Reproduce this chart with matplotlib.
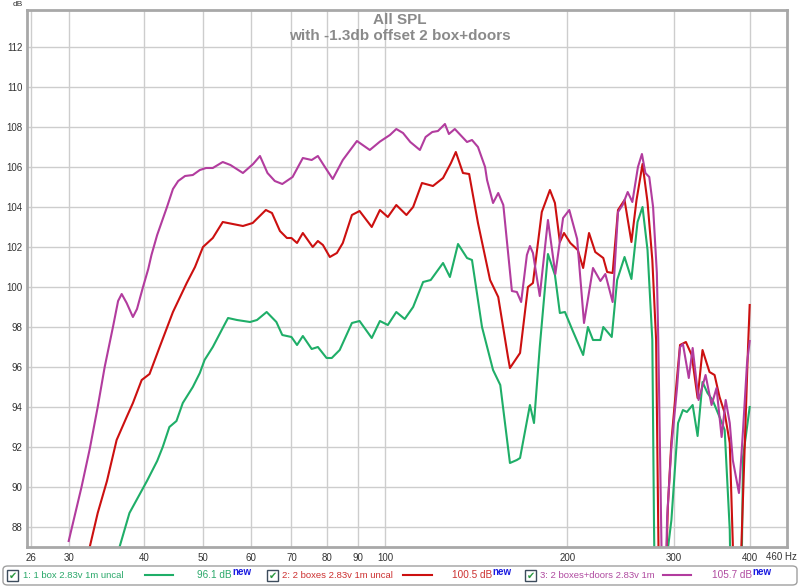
import matplotlib
matplotlib.use("Agg")
import matplotlib.pyplot as plt
from matplotlib.patches import Rectangle, FancyBboxPatch
from matplotlib.lines import Line2D
from matplotlib.ticker import NullLocator

plt.rcParams['font.family'] = ['Liberation Sans', 'DejaVu Sans']

# trace 1: 1 box 2.83v 1m uncal
box1_hz = [36.4, 37.8, 40.4, 42.0, 42.9, 44.0, 45.2, 46.3, 48.1, 49.4, 50.3, 51.9,
           53.9, 55.0, 56.9, 59.8, 61.4, 63.7, 66.1, 67.6, 70.0, 71.5, 73.1, 75.6,
           77.4, 80.0, 81.6, 84.1, 88.1, 90.7, 95.0, 98.0, 101.0, 104.3, 107.7,
           111.2, 115.5, 118.9, 124.6, 127.9, 131.9, 136.5, 139.1, 144.5, 150.7,
           154.9, 160.7, 165.0, 167.0, 173.4, 176.1, 180.0, 185.7, 190.7, 194.3,
           198.1, 203.8, 212.3, 216.2, 220.4, 226.7, 229.2, 236.7, 241.6, 248.5,
           255.1, 261.1, 266.1, 271.2, 276.2, 278.0, 279.5, 285.0, 290.0, 293.3,
           297.0, 304.6, 310.3, 315.0, 322.0, 328.1, 334.3, 340.7, 347.3, 356.7,
           363.7, 370.8, 373.0, 385.0, 388.4, 390.0, 396.0, 400.0]
box1_db = [87.0, 88.7, 90.3, 91.3, 92.0, 93.0, 93.3, 94.2, 95.0, 95.7, 96.35, 97.0,
           97.95, 98.45, 98.35, 98.25, 98.35, 98.75, 98.25, 97.6, 97.5, 97.1, 97.55, 96.9,
           97.0, 96.45, 96.45, 96.85, 98.2, 98.3, 97.45, 98.3, 98.1, 98.75, 98.4,
           99.0, 100.25, 100.35, 101.2, 100.5, 102.15, 101.45, 101.35, 98.0, 95.85,
           95.1, 91.2, 91.35, 91.45, 94.1, 93.2, 97.0, 101.65, 100.6, 98.7,
           98.75, 97.85, 96.6, 98.0, 97.35, 97.35, 98.0, 97.5, 100.35, 101.5,
           100.4, 103.25, 104.0, 101.85, 97.35, 88.0, 82.0, 80.0, 82.0, 87.0,
           88.35, 93.2, 93.85, 93.75, 94.1, 92.55, 95.25, 94.7, 94.35, 93.5,
           92.85, 87.85, 83.0, 82.0, 87.0, 91.5, 93.0, 94.0]

# trace 2: 2 boxes 2.83v 1m uncal
box2_hz = [32.5, 33.5, 34.7, 36.0, 37.4, 38.3, 39.6, 40.8, 42.4, 44.6, 47.0, 48.5,
           50.0, 51.9, 53.9, 56.0, 58.2, 60.4, 63.5, 65.0, 67.0, 68.8, 70.0, 71.5,
           73.1, 75.9, 77.4, 78.9, 81.0, 83.2, 85.1, 88.1, 90.7, 95.0, 98.0, 101.0,
           104.3, 108.4, 111.2, 115.0, 119.9, 124.6, 128.4, 130.8, 134.4, 137.6,
           142.3, 149.0, 153.7, 159.5, 160.7, 167.0, 172.1, 175.4, 181.4, 187.1,
           190.7, 194.3, 197.4, 202.2, 208.0, 212.3, 217.1, 222.3, 229.2, 232.6,
           237.5, 242.4, 248.5, 255.1, 260.1, 266.1, 271.2, 276.2, 280.2, 282.0,
           283.5, 285.0, 290.0, 293.0, 297.0, 303.5, 306.9, 313.8, 320.8, 328.1,
           334.3, 343.3, 350.0, 356.7, 363.7, 370.8, 375.1, 378.0, 384.0, 387.5,
           397.5, 400.0]
box2_db = [87.0, 88.7, 90.3, 92.35, 93.5, 94.2, 95.35, 95.65, 97.0, 98.75, 100.2, 101.0,
           102.0, 102.45, 103.25, 103.15, 103.05, 103.2, 103.85, 103.7, 102.8, 102.45, 102.45, 102.2,
           102.7, 102.0, 102.3, 102.1, 101.5, 101.7, 102.2, 103.6, 103.8, 103.0, 103.85, 103.5,
           104.1, 103.6, 104.0, 105.2, 105.05, 105.45, 106.2, 106.75, 105.7, 105.65,
           103.2, 100.35, 99.5, 96.5, 95.95, 96.7, 100.0, 100.2, 103.75, 104.85,
           104.2, 102.25, 102.7, 102.2, 101.85, 100.95, 102.7, 101.75, 101.45, 100.75,
           100.7, 103.85, 104.35, 102.25, 104.35, 106.15, 104.25, 101.35, 97.35, 90.0,
           84.0, 80.0, 84.0, 89.0, 92.3, 95.5, 97.1, 97.25, 96.6, 94.45,
           96.85, 95.75, 95.6, 94.5, 93.7, 92.2, 87.2, 82.0, 82.0, 87.0,
           97.0, 99.1]

# trace 3: 2 boxes+doors 2.83v 1m
doors_hz = [30.0, 31.5, 32.5, 33.5, 34.4, 35.5, 36.2, 36.7, 37.4, 38.3, 38.9, 39.8,
            40.6, 41.1, 42.0, 43.6, 44.6, 45.5, 46.7, 48.1, 49.4, 50.6, 51.9, 53.9,
            55.5, 58.2, 60.5, 62.1, 63.9, 65.7, 67.6, 70.3, 73.1, 75.6, 77.4, 79.5,
            81.9, 85.1, 89.8, 94.3, 98.0, 101.8, 104.3, 107.0, 110.0, 114.1, 116.6,
            119.6, 122.2, 125.5, 127.4, 130.3, 136.5, 139.1, 142.3, 146.2, 147.3,
            150.7, 153.7, 156.7, 161.9, 165.0, 167.7, 171.4, 173.4, 175.4, 180.0,
            185.7, 191.0, 196.7, 201.4, 207.5, 213.0, 220.4, 226.7, 231.0, 237.5,
            242.4, 246.7, 251.5, 256.0, 261.5, 265.5, 269.0, 273.0, 277.0, 281.0,
            282.5, 285.0, 287.0, 289.5, 291.0, 292.2, 297.0, 303.5, 306.9, 310.3,
            317.3, 322.0, 329.3, 338.2, 346.0, 352.6, 359.5, 365.1, 370.8, 375.1,
            384.0, 390.0, 396.0, 400.0]
doors_db = [87.3, 90.0, 91.9, 94.0, 96.0, 98.0, 99.3, 99.65, 99.2, 98.5, 98.9, 100.0,
            100.9, 101.6, 102.6, 104.0, 104.9, 105.3, 105.55, 105.6, 105.85, 105.95, 105.95, 106.25,
            106.1, 105.7, 106.15, 106.55, 105.7, 105.3, 105.15, 105.5, 106.45, 106.35, 106.55, 106.0,
            105.4, 106.35, 107.3, 106.85, 107.27, 107.6, 107.9, 107.7, 107.25, 106.85, 107.5,
            107.75, 107.8, 108.15, 107.65, 107.9, 107.25, 107.35, 107.0, 106.0, 105.35,
            104.2, 104.7, 104.1, 99.8, 99.75, 99.25, 101.6, 102.05, 101.7, 99.55,
            103.35, 100.65, 103.45, 103.85, 102.4, 98.2, 100.95, 100.3, 100.65, 99.25,
            103.75, 104.1, 104.75, 104.25, 106.0, 106.65, 105.7, 105.5, 104.0, 100.7,
            97.4, 90.0, 84.0, 80.0, 86.0, 88.5, 92.0, 95.0, 97.0, 97.15,
            95.45, 96.95, 94.35, 95.6, 94.1, 94.95, 92.5, 94.35, 93.2, 91.35,
            89.7, 92.85, 96.2, 97.3]

x_ticks = [26, 30, 40, 50, 60, 70, 80, 90, 100, 200, 300, 400]
x_labels = ['26', '30', '40', '50', '60', '70', '80', '90', '100', '200', '300', '400']
x_end_label = '460 Hz'
y_ticks = list(range(88, 113, 2))

legend_names = ['1: 1 box 2.83v 1m uncal', '2: 2 boxes 2.83v 1m uncal', '3: 2 boxes+doors 2.83v 1m']
legend_levels = ['96.1 dB', '100.5 dB', '105.7 dB']

col_green = '#1fae68'
col_red = '#cc1010'
col_mag = '#b23c9e'

W, H = 800, 587
fig = plt.figure(figsize=(W / 100, H / 100), dpi=100)
ax = fig.add_axes([27 / W, 40 / H, 760 / W, 537 / H])

for hz, db, c in [(box1_hz, box1_db, col_green), (box2_hz, box2_db, col_red),
                  (doors_hz, doors_db, col_mag)]:
    ax.plot(hz, db, color=c, lw=1.5, solid_joinstyle='round')

ax.set_xscale('log')
ax.set_xlim(25.6, 461)
ax.set_ylim(87, 113.85)
ax.set_xticks(x_ticks)
ax.set_xticklabels(x_labels)
ax.xaxis.set_minor_locator(NullLocator())
ax.set_yticks(y_ticks)
ax.tick_params(length=0, labelsize=7, colors='#333333')
ax.tick_params(axis='x', pad=4)
ax.tick_params(axis='y', pad=3)
ax.grid(True, color='#cdcdcd', lw=1)
ax.set_axisbelow(True)
for s in ax.spines.values():
    s.set_color('#a8a8a8')
    s.set_linewidth(2)

# last frequency label sits at the right edge, shifted inwards
fig.text(797 / W, 1 - 557 / H, x_end_label, fontsize=7, color='#333333',
         ha='right', va='center')
fig.text(18 / W, 1 - 5 / H, 'dB', fontsize=6, color='#333333', ha='center', va='center')
fig.text(400 / W, 1 - 20 / H, 'All SPL', fontsize=11, fontweight='bold',
         color='#8a8a8a', ha='center', va='center')
fig.text(400 / W, 1 - 36 / H, 'with -1.3db offset 2 box+doors', fontsize=11,
         fontweight='bold', color='#8a8a8a', ha='center', va='center')

# legend strip under the plot
fig.patches.append(FancyBboxPatch((3 / W, 2 / H), 794 / W, 19 / H,
                                  boxstyle='round,pad=0,rounding_size=0.006',
                                  transform=fig.transFigure, fc='white',
                                  ec='#a0a0a0', lw=1))
text_cols = ['#2aa86a', '#cc3030', '#b04aa0']
line_cols = [col_green, col_red, col_mag]
box_x = [7, 267, 525]
name_x = [23, 282, 540]
line_x = [(145, 173), (403, 432), (663, 691)]
lvl_x = [232, 492, 752]
yc = 1 - 575 / H
for i in range(3):
    fig.patches.append(Rectangle((box_x[i] / W, 1 - 581 / H), 11 / W, 11 / H,
                                 transform=fig.transFigure, fc='white',
                                 ec='#3c4c5c', lw=1))
    fig.text((box_x[i] + 5.5) / W, 1 - 575.5 / H, '\u2714', fontsize=7,
             color='#2a9a40', ha='center', va='center', family='DejaVu Sans')
    fig.text(name_x[i] / W, yc, legend_names[i], fontsize=6.8, color=text_cols[i],
             ha='left', va='center')
    fig.lines.append(Line2D([line_x[i][0] / W, line_x[i][1] / W], [yc, yc],
                            transform=fig.transFigure, color=line_cols[i], lw=1.5))
    fig.text(lvl_x[i] / W, yc, legend_levels[i], fontsize=7.2, color=text_cols[i],
             ha='right', va='center')
    fig.text(lvl_x[i] / W, 1 - 572 / H, 'new', fontsize=7, fontweight='bold',
             color='#1a1ae0', ha='left', va='center')

fig.savefig('out.png', dpi=100)
